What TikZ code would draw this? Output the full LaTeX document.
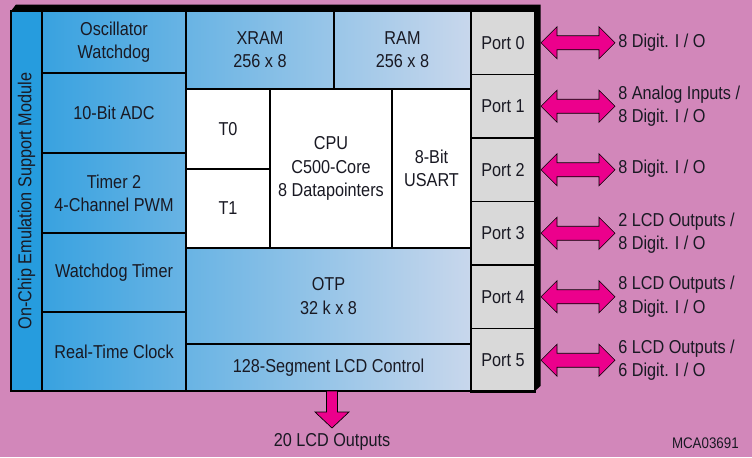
\documentclass[tikz,border=0pt]{standalone}
\usepackage{fontspec}
\setmainfont{Liberation Sans}[FakeStretch=0.87]
\usetikzlibrary{calc}
\definecolor{bgpink}{RGB}{210,135,186}
\definecolor{magen}{RGB}{236,0,140}
\definecolor{gradL}{RGB}{46,158,223}
\definecolor{gradR}{RGB}{200,215,236}
\definecolor{stripblue}{RGB}{38,156,222}
\definecolor{portgray}{RGB}{217,217,217}
\definecolor{txt}{RGB}{25,25,35}
\newcommand\blk[7][]{\node[blkbase,#1,minimum width={(#5-#3)*0.75pt},minimum height={(#6-#4)*0.75pt}] (#2) at ({(#3+#5)/2},{(#4+#6)/2}) {#7};}
\newcommand\sidearrow[2]{\draw[darr] ($(#1.east)+(6,0)$) -- ++(16,-16) -- ++(0,9) -- ++(42,0) -- ++(0,-9) -- ++(16,16) coordinate (#2tip) -- ++(-16,16) -- ++(0,-9) -- ++(-42,0) -- ++(0,9) -- cycle;}
\begin{document}
\begin{tikzpicture}[x=0.75pt,y=-0.75pt,
  blkbase/.style={draw=black, line width=0.9pt, inner sep=0pt, outer sep=0pt, align=center, text=txt, font=\fontsize{14}{17.5}\selectfont},
  lbl/.style={anchor=west, align=left, inner sep=0pt, text=txt, font=\fontsize{14}{17.5}\selectfont},
  darr/.style={fill=magen, draw=black, line width=0.5pt, line join=miter}]
\useasboundingbox (0,0) rectangle (752,457);
\fill[bgpink] (0,0) rectangle (752,457);
% 3D frame edge
\fill[black] (11,11) -- (16,4.5) -- (540.5,4.5) -- (540.5,386) -- (535,391) -- cycle;
\fill[left color=gradL, right color=gradR] (11,11) rectangle (471,391);
% left strip and column
\blk[fill=stripblue]{emu}{11}{11}{42}{391}{\rotatebox{90}{On-Chip Emulation Support Module}}
\blk{osc}{42}{11}{186}{73}{Oscillator\\Watchdog}
\blk{adc}{42}{73}{186}{153}{10-Bit ADC}
\blk{tim2}{42}{153}{186}{233}{Timer 2\\4-Channel PWM}
\blk{wdt}{42}{233}{186}{312}{Watchdog Timer}
\blk{rtc}{42}{312}{186}{391}{Real-Time Clock}
% middle
\blk{xram}{186}{11}{334}{89}{XRAM\\256 x 8}
\blk{ram}{334}{11}{471}{89}{RAM\\256 x 8}
\blk[fill=white]{t0}{186}{89}{270}{169}{T0}
\blk[fill=white]{t1}{186}{169}{270}{248}{T1}
\blk[fill=white]{cpu}{270}{89}{392}{248}{CPU\\C500-Core\\8 Datapointers}
\blk[fill=white]{usart}{392}{89}{471}{248}{8-Bit\\USART}
\blk{otp}{186}{248}{471}{344}{OTP\\32 k x 8}
\blk{lcd}{186}{344}{471}{391}{128-Segment LCD Control}
% ports
\blk[fill=portgray]{p0}{471}{11}{535}{74.5}{Port 0}
\blk[fill=portgray]{p1}{471}{74.5}{535}{138}{Port 1}
\blk[fill=portgray]{p2}{471}{138}{535}{201.5}{Port 2}
\blk[fill=portgray]{p3}{471}{201.5}{535}{265}{Port 3}
\blk[fill=portgray]{p4}{471}{265}{535}{328.5}{Port 4}
\blk[fill=portgray]{p5}{471}{328.5}{535}{392}{Port 5}
\draw[line width=1.3pt] (11,11) rectangle (535,391);
% port labels
\node[lbl] (l0) at (618,43) {8 Digit. I / O};
\node[lbl] (l1) at (618,106.5) {8 Analog Inputs /\\8 Digit. I / O};
\node[lbl] (l2) at (618,169) {8 Digit. I / O};
\node[lbl] (l3) at (618,233) {2 LCD Outputs /\\8 Digit. I / O};
\node[lbl] (l4) at (618,296.5) {8 LCD Outputs /\\8 Digit. I / O};
\node[lbl] (l5) at (618,360) {6 LCD Outputs /\\6 Digit. I / O};
\sidearrow{p0}{a0}
\sidearrow{p1}{a1}
\sidearrow{p2}{a2}
\sidearrow{p3}{a3}
\sidearrow{p4}{a4}
\sidearrow{p5}{a5}
% bottom
\node[lbl, anchor=center] (out) at (332,442) {20 LCD Outputs};
\coordinate (bt) at ($(lcd.south)+(3.5,0)$);
\draw[darr] (bt) ++(-5.5,0) -- ++(0,21) -- ++(-11.5,0) -- ++(17,16) -- ++(17,-16) -- ++(-11.5,0) -- ++(0,-21) -- cycle;
\node[anchor=east, inner sep=0pt, text=txt, font=\fontsize{11.5}{13}\selectfont] (mca) at (739,443) {MCA03691};
\end{tikzpicture}
\end{document}
